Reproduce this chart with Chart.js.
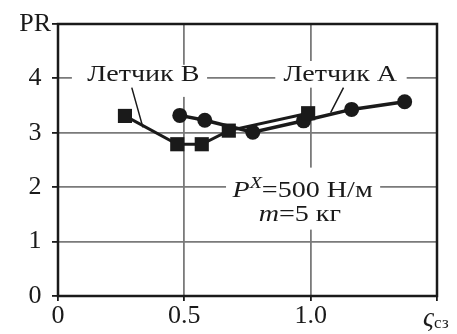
<!DOCTYPE html>
<html>
<head>
    <title>PR vs zeta</title>
    <script src="https://cdn.jsdelivr.net/npm/chart.js"></script>
    <style>
        body { margin: 0; background: #fff; }
    </style>
</head>
<body>
    <canvas id="prChart" width="457" height="334"></canvas>
    <script>
        // values
        const pilotBX = [0.265, 0.472, 0.569, 0.676, 0.99];
        const pilotBY = [3.31, 2.79, 2.79, 3.04, 3.36];
        const pilotAX = [0.482, 0.581, 0.771, 0.972, 1.162, 1.372];
        const pilotAY = [3.32, 3.23, 3.01, 3.22, 3.43, 3.57];
        const xTicks = [0, 0.5, 1.0, 1.5];
        const yTicks = [0, 1, 2, 3, 4, 5];

        const serif = '"Liberation Serif", "Times New Roman", serif';
        const gridGray = '#7a7a7a';
        const ink = '#1a1a1a';
        const stretch = 1.17; // the scan's letters are wider than Liberation Serif

        const toPoints = (xs, ys) => xs.map((x, i) => ({ x: x, y: ys[i] }));

        // writes a line made of pieces (text, font, raise), centred on cx
        function writeLine(ctx, parts, cx, base) {
            let total = 0;
            parts.forEach(p => { ctx.font = p.f; p.w = ctx.measureText(p.t).width * stretch; total += p.w; });
            let x = cx - total / 2;
            parts.forEach(p => {
                ctx.save();
                ctx.font = p.f;
                ctx.translate(x, base + (p.dy || 0));
                ctx.scale(stretch, 1);
                ctx.fillText(p.t, 0, 0);
                ctx.restore();
                x += p.w;
            });
        }

        // text labels and pointer lines, placed in data units
        const notes = {
            draw(chart) {
                const ctx = chart.ctx;
                const xs = chart.scales.x, ys = chart.scales.y;
                const px = v => xs.getPixelForValue(v);
                const py = v => ys.getPixelForValue(v);
                const area = chart.chartArea;
                ctx.save();

                // white boxes that break the grid under the texts
                ctx.fillStyle = '#fff';
                ctx.fillRect(px(0.055), py(4.25), px(0.59) - px(0.055), py(3.66) - py(4.25));
                ctx.fillRect(px(0.86), py(4.32), px(1.38) - px(0.86), py(3.83) - py(4.32));
                ctx.fillRect(px(0.665), py(2.36), px(1.275) - px(0.665), py(1.22) - py(2.36));

                ctx.fillStyle = ink;
                ctx.textBaseline = 'alphabetic';
                ctx.textAlign = 'left';
                const plain = '24px ' + serif;
                const ital = 'italic 24px ' + serif;
                writeLine(ctx, [{ t: 'Летчик В', f: plain }], px(0.338), py(3.95));
                writeLine(ctx, [{ t: 'Летчик А', f: plain }], px(1.117), py(3.95));
                writeLine(ctx, [
                    { t: 'P', f: ital },
                    { t: 'X', f: 'italic 17px ' + serif, dy: -9 },
                    { t: '=500 Н/м', f: plain }
                ], px(0.968), py(1.82));
                writeLine(ctx, [
                    { t: 'm', f: ital },
                    { t: '=5 кг', f: plain }
                ], px(0.957), py(1.38));

                // pointers
                ctx.strokeStyle = ink;
                ctx.lineWidth = 1.5;
                ctx.beginPath();
                ctx.moveTo(px(0.292), py(3.83));
                ctx.lineTo(px(0.336), py(3.10));
                ctx.moveTo(px(1.130), py(3.83));
                ctx.lineTo(px(1.079), py(3.37));
                ctx.stroke();

                // frame
                ctx.lineWidth = 2.5;
                ctx.strokeRect(area.left, area.top, area.right - area.left, area.bottom - area.top);

                // x axis name at the last tick: ς with subscript сз
                const lx = px(1.5) - 14;
                const ly = area.bottom + 30;
                ctx.font = 'italic 27px ' + serif;
                ctx.fillText('ς', lx, ly);
                const w = ctx.measureText('ς').width;
                ctx.font = '17px ' + serif;
                ctx.fillText('сз', lx + w, ly + 2);

                ctx.restore();
            }
        };

        const ctx = document.getElementById('prChart').getContext('2d');
        const prChart = new Chart(ctx, {
            type: 'scatter',
            data: {
                datasets: [
                    {
                        label: 'Летчик В',
                        data: toPoints(pilotBX, pilotBY),
                        showLine: true,
                        borderColor: ink,
                        backgroundColor: ink,
                        borderWidth: 3,
                        pointStyle: 'rect',
                        pointRadius: 10,
                        pointBorderWidth: 0,
                    },
                    {
                        label: 'Летчик А',
                        data: toPoints(pilotAX, pilotAY),
                        showLine: true,
                        borderColor: ink,
                        backgroundColor: ink,
                        borderWidth: 3.5,
                        pointStyle: 'circle',
                        pointRadius: 7.5,
                        pointBorderWidth: 0,
                    },
                ],
            },
            options: {
                responsive: false,
                animation: false,
                events: [],
                layout: { padding: { top: 24, right: 20, left: 0, bottom: 0 } },
                plugins: {
                    legend: { display: false },
                    tooltip: { enabled: false },
                },
                scales: {
                    x: {
                        type: 'linear',
                        min: 0,
                        max: 1.5,
                        afterBuildTicks: axis => { axis.ticks = xTicks.map(v => ({ value: v })); },
                        afterFit: axis => { axis.height = 38; },
                        border: { display: false },
                        grid: {
                            color: c => (c.tick && (c.tick.value === 0 || c.tick.value === 1.5)) ? 'rgba(0,0,0,0)' : gridGray,
                            lineWidth: 1.8,
                            tickColor: ink,
                            tickLength: 5,
                        },
                        ticks: {
                            color: ink,
                            padding: 0,
                            maxRotation: 0,
                            font: { family: serif, size: 26 },
                            callback: v => v === 0 ? '0' : (v === 1.5 ? '' : v.toFixed(1)),
                        },
                    },
                    y: {
                        min: 0,
                        max: 5,
                        afterBuildTicks: axis => { axis.ticks = yTicks.map(v => ({ value: v })); },
                        afterFit: axis => { axis.width = 58; },
                        border: { display: false },
                        grid: {
                            color: c => (c.tick && (c.tick.value === 0 || c.tick.value === 5)) ? 'rgba(0,0,0,0)' : gridGray,
                            lineWidth: 1.8,
                            tickColor: ink,
                            tickLength: 6,
                        },
                        ticks: {
                            color: ink,
                            padding: 1,
                            crossAlign: 'center',
                            font: { family: serif, size: 26 },
                            callback: v => v === 5 ? 'PR' : String(v),
                        },
                    },
                },
            },
            plugins: [{ id: 'notes', beforeDatasetsDraw: chart => notes.draw(chart) }],
        });
    </script>
</body>
</html>
